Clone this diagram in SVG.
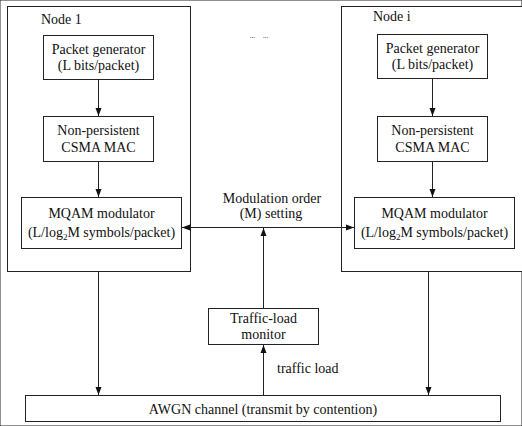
<svg xmlns="http://www.w3.org/2000/svg" width="522" height="426" viewBox="0 0 522 426">
<defs>
<style>
rect{fill:#fff;stroke:#222;stroke-width:1}
text{font-family:"Liberation Serif","Times New Roman",serif;font-size:14px;fill:#111;text-anchor:middle}
.l{text-anchor:start}
#connectors line{stroke:#222;stroke-width:1}
</style>
<marker id="ah" viewBox="0 0 8 8" refX="8" refY="4" markerWidth="8" markerHeight="8" markerUnits="userSpaceOnUse" orient="auto-start-reverse">
<path d="M0,1 L8,4 L0,7 Z" fill="#111"/>
</marker>
</defs>
<rect width="522" height="426" fill="#fff" stroke="none"/>

<g id="node1">
<rect x="7.5" y="6.5" width="183" height="265"/>
<text class="l" x="41" y="24">Node 1</text>
</g>
<g id="nodei">
<rect x="341.5" y="6.5" width="200" height="265"/>
<text class="l" x="373" y="21">Node i</text>
</g>

<g id="pg1">
<rect x="43.5" y="35.5" width="110" height="44"/>
<text x="98.5" y="54">Packet generator</text>
<text x="98.5" y="70">(L bits/packet)</text>
</g>
<g id="mac1">
<rect x="43.5" y="116.5" width="110" height="45"/>
<text x="98.5" y="135">Non-persistent</text>
<text x="98.5" y="152">CSMA MAC</text>
</g>
<g id="mod1">
<rect x="21.5" y="197.5" width="160" height="51"/>
<text x="101.5" y="218">MQAM modulator</text>
<text x="101.5" y="237">(L/log<tspan font-size="9" dy="3">2</tspan><tspan dy="-3">M symbols/packet)</tspan></text>
</g>

<g id="pgi">
<rect x="377.5" y="34.5" width="110" height="44"/>
<text x="432.5" y="53">Packet generator</text>
<text x="432.5" y="69">(L bits/packet)</text>
</g>
<g id="maci">
<rect x="377.5" y="116.5" width="110" height="45"/>
<text x="432.5" y="135">Non-persistent</text>
<text x="432.5" y="152">CSMA MAC</text>
</g>
<g id="modi">
<rect x="354.5" y="197.5" width="160" height="51"/>
<text x="434.5" y="218">MQAM modulator</text>
<text x="434.5" y="237">(L/log<tspan font-size="9" dy="3">2</tspan><tspan dy="-3">M symbols/packet)</tspan></text>
</g>

<g id="monitor">
<rect x="208.5" y="308.5" width="110" height="36"/>
<text x="263.5" y="323">Traffic-load</text>
<text x="263.5" y="339">monitor</text>
</g>

<g id="awgn">
<rect x="25.5" y="395.5" width="475" height="26"/>
<text x="263" y="414">AWGN channel (transmit by contention)</text>
</g>

<g id="labels">
<text x="272" y="203">Modulation order</text>
<text x="271" y="218">(M) setting</text>
<text class="l" x="277" y="373">traffic load</text>
<text class="l" x="250" y="38" font-size="7" style="font-size:7px">...</text>
<text class="l" x="263" y="38" font-size="7" style="font-size:7px">...</text>
</g>

<g id="connectors">
<line x1="98.5" y1="80" x2="98.5" y2="116" marker-end="url(#ah)"/>
<line x1="98.5" y1="162" x2="98.5" y2="197" marker-end="url(#ah)"/>
<line x1="432.5" y1="79" x2="432.5" y2="116" marker-end="url(#ah)"/>
<line x1="432.5" y1="162" x2="432.5" y2="197" marker-end="url(#ah)"/>
<line x1="182" y1="227.5" x2="354" y2="227.5" marker-start="url(#ah)" marker-end="url(#ah)"/>
<line x1="263.5" y1="308" x2="263.5" y2="228" marker-end="url(#ah)"/>
<line x1="263.5" y1="395" x2="263.5" y2="345" marker-end="url(#ah)"/>
<line x1="98.5" y1="272" x2="98.5" y2="395" marker-end="url(#ah)"/>
<line x1="428.5" y1="272" x2="428.5" y2="395" marker-end="url(#ah)"/>
</g>
</svg>
